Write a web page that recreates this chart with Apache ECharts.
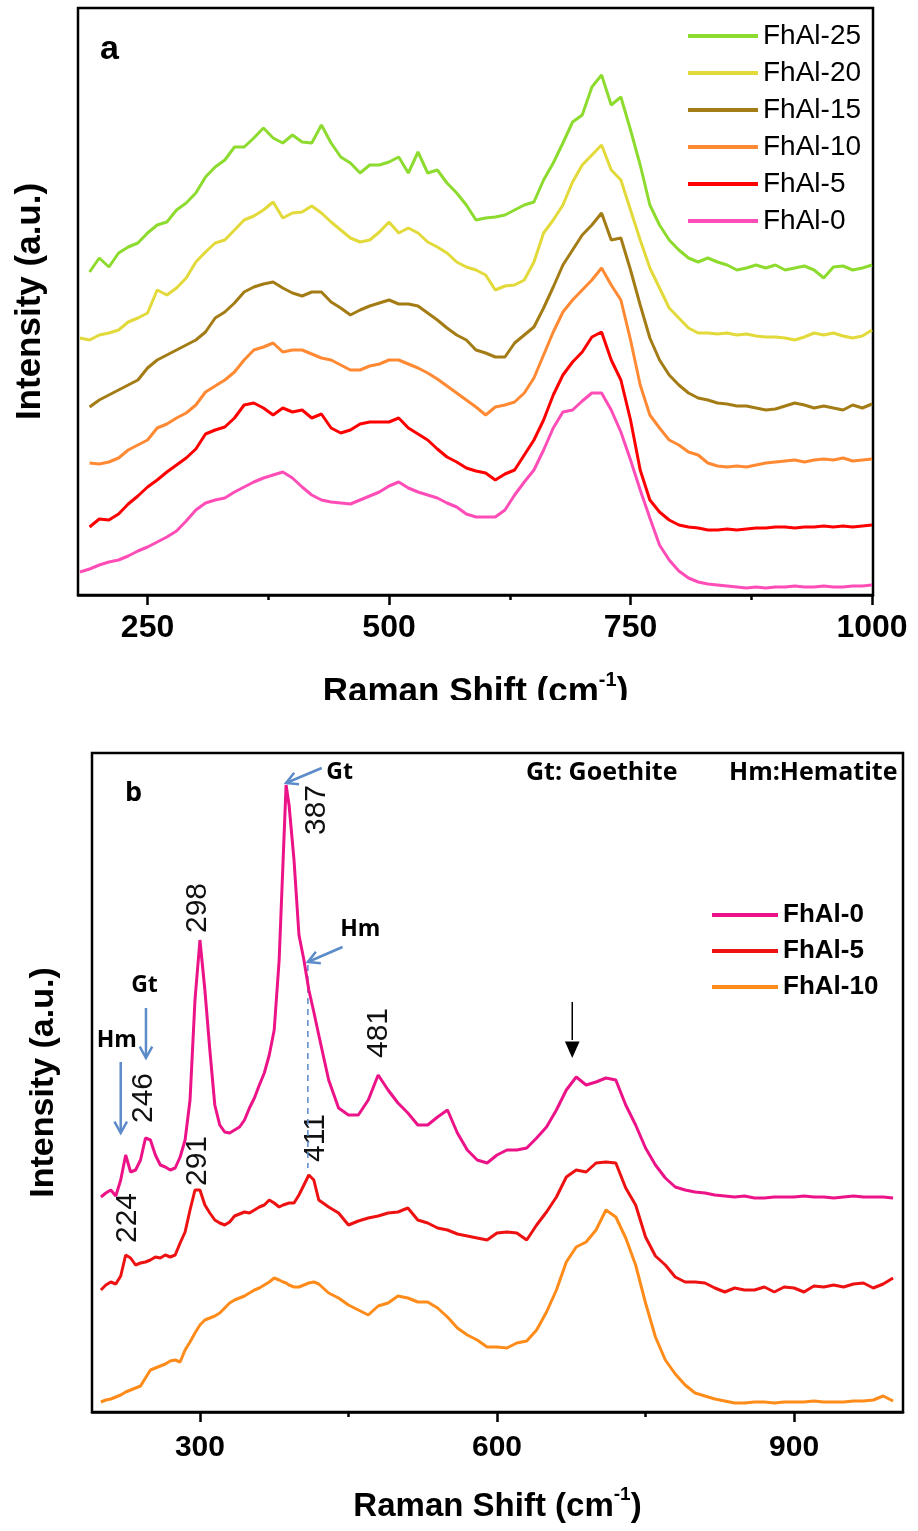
<!DOCTYPE html>
<html>
<head>
<meta charset="utf-8">
<title>Raman spectra FhAl</title>
<script src="https://cdn.jsdelivr.net/npm/echarts@6/dist/echarts.min.js"></script>
<style>
  html, body { margin: 0; padding: 0; background: #fff; }
  #raman_a { position: absolute; left: 0; top: 0; width: 918px; height: 700px; }
  #raman_b { position: absolute; left: 0; top: 700px; width: 918px; height: 831px; }
</style>
</head>
<body>
<div id="raman_a"></div>
<div id="raman_b"></div>
<script>
// ---- panel a : Raman shift (cm-1) and stacked intensities (a.u.)
var shiftA = [180, 190, 200, 210, 220, 230, 240, 250, 260, 270,
  280, 290, 300, 310, 320, 330, 340, 350, 360, 370,
  380, 390, 400, 410, 420, 430, 440, 450, 460, 470,
  480, 490, 500, 510, 520, 530, 540, 550, 560, 570,
  580, 590, 600, 610, 620, 630, 640, 650, 660, 670,
  680, 690, 700, 710, 720, 730, 740, 750, 760, 770,
  780, 790, 800, 810, 820, 830, 840, 850, 860, 870,
  880, 890, 900, 910, 920, 930, 940, 950, 960, 970,
  980, 990, 1000]
var fhal25A = [null, 323, 337, 328, 342, 348, 352, 362, 370, 373,
  385, 392, 402, 418, 428, 435, 448, 448, 457, 467,
  457, 452, 460, 453, 452, 470, 452, 438, 432, 422,
  430, 430, 433, 438, 422, 443, 422, 425, 412, 402,
  390, 375, 377, 378, 380, 385, 390, 393, 415, 432,
  452, 473, 480, 508, 520, 490, 498, 465, 430, 390,
  370, 355, 345, 337, 333, 337, 333, 330, 325, 327,
  330, 327, 330, 325, 327, 329, 325, 317, 328, 329,
  325, 327, 330]
var fhal20A = [257, 255, 260, 262, 265, 273, 277, 282, 305, 300,
  307, 317, 333, 343, 352, 355, 365, 375, 379, 385,
  393, 377, 382, 383, 389, 382, 373, 365, 357, 353,
  355, 363, 373, 362, 367, 362, 353, 348, 342, 333,
  328, 325, 320, 305, 309, 310, 315, 333, 362, 375,
  390, 413, 430, 440, 450, 425, 415, 385, 355, 327,
  307, 287, 277, 267, 262, 262, 261, 262, 260, 261,
  259, 258, 258, 257, 255, 258, 262, 260, 262, 259,
  257, 259, 265]
var fhal15A = [null, 188, 195, 200, 205, 210, 215, 227, 235, 240,
  245, 250, 255, 263, 277, 283, 292, 303, 308, 311,
  313, 307, 302, 299, 303, 303, 293, 287, 280, 285,
  289, 292, 295, 291, 291, 289, 282, 275, 267, 260,
  255, 245, 242, 238, 238, 252, 260, 268, 287, 308,
  330, 345, 360, 370, 382, 355, 357, 325, 290, 257,
  235, 220, 210, 202, 197, 195, 192, 191, 189, 189,
  187, 185, 186, 189, 192, 190, 187, 189, 187, 185,
  190, 187, 191]
var fhal10A = [null, 132, 131, 133, 137, 145, 150, 155, 167, 171,
  177, 182, 190, 203, 209, 215, 223, 235, 245, 248,
  252, 243, 245, 245, 241, 237, 235, 230, 225, 225,
  229, 231, 235, 235, 231, 227, 222, 216, 209, 202,
  195, 188, 180, 188, 190, 193, 202, 217, 240, 263,
  283, 295, 305, 315, 327, 310, 295, 255, 210, 180,
  167, 155, 150, 143, 140, 132, 129, 128, 129, 128,
  130, 132, 133, 134, 135, 133, 135, 136, 135, 137,
  134, 135, 136]
var fhal5A = [null, 68, 76, 75, 81, 91, 99, 108, 115, 123,
  130, 137, 146, 161, 165, 168, 177, 190, 192, 187,
  180, 187, 183, 185, 177, 181, 167, 162, 165, 171,
  173, 173, 173, 177, 167, 161, 155, 146, 138, 133,
  127, 124, 122, 115, 121, 125, 140, 155, 175, 200,
  220, 233, 243, 258, 263, 235, 215, 175, 125, 95,
  83, 75, 70, 68, 67, 65, 65, 66, 65, 66,
  67, 67, 68, 68, 67, 68, 68, 69, 68, 69,
  68, 69, 70]
var fhal0A = [23, 26, 30, 33, 35, 39, 44, 48, 53, 58,
  64, 74, 85, 92, 95, 97, 103, 108, 113, 117,
  120, 123, 117, 108, 100, 95, 93, 92, 91, 95,
  99, 103, 109, 113, 107, 103, 100, 97, 92, 88,
  81, 78, 78, 78, 85, 100, 113, 125, 145, 167,
  183, 185, 194, 202, 202, 185, 163, 135, 105, 77,
  50, 35, 24, 17, 13, 11, 10, 9, 8, 7,
  8, 7, 8, 8, 9, 8, 8, 9, 8, 8,
  9, 9, 10]
var majorTicksA = [250, 500, 750, 1000]
var minorTicksA = [375, 625, 875]

// ---- panel b
var shiftB = [200, 205, 210, 215, 220, 225, 230, 235, 240, 245,
  250, 255, 260, 265, 270, 275, 280, 285, 290, 295,
  300, 305, 310, 315, 320, 325, 330, 335, 340, 345,
  350, 355, 360, 365, 370, 375, 380, 384, 387, 390,
  395, 400, 405, 410, 415, 420, 430, 440, 450, 460,
  470, 480, 490, 500, 510, 520, 530, 540, 550, 560,
  570, 580, 590, 600, 610, 620, 630, 640, 650, 660,
  670, 680, 690, 700, 710, 720, 730, 740, 750, 760,
  770, 780, 790, 800, 810, 820, 830, 840, 850, 860,
  870, 880, 890, 900, 910, 920, 930, 940, 950, 960,
  970, 980, 990, 1000]
var fhal0B = [215, 219, 222, 216, 232, 257, 240, 242, 252, 274,
  272, 257, 247, 245, 242, 244, 255, 272, 312, 412,
  472, 422, 362, 307, 287, 280, 279, 282, 285, 292,
  304, 314, 327, 339, 357, 382, 452, 552, 627, 607,
  552, 477, 452, 422, 400, 377, 332, 304, 297, 297,
  312, 337, 322, 309, 299, 287, 287, 295, 302, 279,
  262, 252, 249, 257, 262, 262, 264, 274, 285, 302,
  322, 335, 327, 330, 334, 332, 307, 287, 264, 247,
  234, 225, 222, 220, 219, 217, 216, 215, 216, 214,
  214, 215, 215, 215, 216, 215, 215, 214, 215, 216,
  215, 215, 215, 214]
var fhal5B = [122, 127, 130, 128, 136, 157, 154, 147, 149, 150,
  152, 155, 154, 157, 155, 157, 169, 180, 202, 222,
  222, 207, 199, 192, 189, 187, 190, 196, 198, 200,
  199, 202, 205, 207, 212, 209, 205, 207, 208, 209,
  209, 217, 227, 237, 232, 212, 205, 199, 187, 191,
  194, 196, 199, 200, 204, 192, 189, 184, 182, 178,
  176, 174, 172, 179, 180, 179, 172, 187, 200, 215,
  235, 242, 240, 249, 250, 249, 224, 207, 175, 156,
  147, 135, 130, 130, 129, 124, 120, 124, 122, 122,
  125, 120, 125, 124, 120, 126, 125, 127, 125, 128,
  129, 124, 128, 134]
var fhal10B = [10, 12, 13, 15, 17, 20, 22, 24, 26, 34,
  42, 44, 46, 48, 51, 52, 50, 62, 70, 79,
  87, 92, 94, 96, 99, 104, 109, 112, 114, 116,
  119, 122, 124, 127, 130, 134, 132, 130, 129, 127,
  125, 125, 127, 129, 130, 128, 119, 114, 107, 102,
  97, 106, 109, 116, 114, 110, 110, 104, 95, 84,
  77, 72, 65, 65, 64, 69, 71, 82, 100, 122,
  150, 165, 170, 182, 202, 195, 174, 147, 109, 75,
  52, 38, 27, 19, 16, 13, 11, 9, 9, 10,
  10, 9, 10, 10, 10, 11, 10, 10, 10, 11,
  11, 12, 16, 11]
var majorTicksB = [300, 600, 900]
var minorTicksB = [450, 750]

// peak positions written beside the curves (label, shift, intensity)
var peakNames = ['387', '298', '246', '481', '224', '291', '411']
var peakAtX = [418, 298, 243, 481, 227, 298, 417]
var peakAtY = [602, 504, 314, 379, 194, 251, 274]

var SANS = '"Liberation Sans", Arial, sans-serif'
var OPEN = '"Open Sans", "Liberation Sans", sans-serif'

function pairs(xs, ys) {
  return xs.map(function (x, i) { return [x, ys[i]] })
}
function spectrum(name, xs, ys, color) {
  return {
    name: name,
    type: 'line',
    data: pairs(xs, ys),
    symbol: 'none',
    lineStyle: { color: color, width: 3 },
    itemStyle: { color: color },
  }
}
function xName(size) {
  return {
    rich: {
      t: { fontSize: size, fontWeight: 'bold', fontFamily: SANS, color: '#000', lineHeight: 44 },
      s: { fontSize: Math.round(size * 0.58), fontWeight: 'bold', fontFamily: SANS, color: '#000', lineHeight: 20, verticalAlign: 'top' },
    },
  }
}
function plain(v) { return String(v) }

// ---------------- panel a
var chartA = echarts.init(document.getElementById('raman_a'))
chartA.setOption({
  animation: false,
  grid: { left: 78, top: 8, width: 795, height: 587, show: true, borderColor: '#000', borderWidth: 2.5, outerBoundsMode: 'none', containLabel: false },
  legend: {
    orient: 'vertical',
    left: 683,
    top: 17,
    icon: 'rect',
    itemWidth: 70,
    itemHeight: 4,
    itemGap: 9,
    selectedMode: false,
    textStyle: { fontSize: 28, fontFamily: SANS, color: '#000', lineHeight: 28 },
    data: ['FhAl-25', 'FhAl-20', 'FhAl-15', 'FhAl-10', 'FhAl-5', 'FhAl-0'],
  },
  xAxis: [
    {
      type: 'value',
      min: 178,
      max: 1001,
      position: 'bottom',
      name: '{t|Raman Shift (cm}{s|-1}{t|)}',
      nameLocation: 'middle',
      nameGap: 75,
      nameTextStyle: xName(35),
      axisLine: { lineStyle: { color: '#000', width: 2.5 } },
      axisTick: { customValues: majorTicksA, length: 10, lineStyle: { color: '#000', width: 2.5 } },
      axisLabel: { customValues: majorTicksA, formatter: plain, fontSize: 32, fontWeight: 'bold', fontFamily: SANS, color: '#000', margin: 17 },
      splitLine: { show: false },
    },
    {
      type: 'value',
      min: 178,
      max: 1001,
      position: 'bottom',
      axisLine: { show: false },
      axisTick: { customValues: minorTicksA, length: 5, lineStyle: { color: '#000', width: 2.5 } },
      axisLabel: { show: false },
      splitLine: { show: false },
    },
  ],
  yAxis: {
    type: 'value',
    min: 0,
    max: 587,
    name: 'Intensity (a.u.)',
    nameLocation: 'middle',
    nameGap: 30,
    nameTextStyle: { fontSize: 35, fontWeight: 'bold', fontFamily: SANS, color: '#000' },
    axisLine: { show: false },
    axisTick: { show: false },
    axisLabel: { show: false },
    splitLine: { show: false },
  },
  graphic: [
    {
      type: 'text',
      left: 100,
      top: 33,
      style: { text: 'a', font: 'bold 34px ' + SANS, fill: '#000' },
    },
  ],
  series: [
    spectrum('FhAl-25', shiftA, fhal25A, '#8EDB2F'),
    spectrum('FhAl-20', shiftA, fhal20A, '#E2D93A'),
    spectrum('FhAl-15', shiftA, fhal15A, '#A47C16'),
    spectrum('FhAl-10', shiftA, fhal10A, '#FF8A33'),
    spectrum('FhAl-5', shiftA, fhal5A, '#FF0000'),
    spectrum('FhAl-0', shiftA, fhal0A, '#FF4DB8'),
  ],
})

// ---------------- panel b
var chartB = echarts.init(document.getElementById('raman_b'))
chartB.setOption({
  animation: false,
  grid: { left: 92, top: 53, width: 811, height: 659, show: true, borderColor: '#000', borderWidth: 2.5, outerBoundsMode: 'none', containLabel: false },
  legend: {
    orient: 'vertical',
    left: 707,
    top: 197,
    icon: 'rect',
    itemWidth: 66,
    itemHeight: 4,
    itemGap: 10,
    selectedMode: false,
    textStyle: { fontSize: 26, fontWeight: 'bold', fontFamily: SANS, color: '#000', lineHeight: 26 },
    data: ['FhAl-0', 'FhAl-5', 'FhAl-10'],
  },
  xAxis: [
    {
      type: 'value',
      min: 191,
      max: 1010,
      position: 'bottom',
      name: '{t|Raman Shift (cm}{s|-1}{t|)}',
      nameLocation: 'middle',
      nameGap: 73,
      nameTextStyle: xName(33),
      axisLine: { lineStyle: { color: '#000', width: 2.5 } },
      axisTick: { customValues: majorTicksB, length: 10, lineStyle: { color: '#000', width: 2.5 } },
      axisLabel: { customValues: majorTicksB, formatter: plain, fontSize: 30, fontWeight: 'bold', fontFamily: SANS, color: '#000', margin: 21 },
      splitLine: { show: false },
    },
    {
      type: 'value',
      min: 191,
      max: 1010,
      position: 'bottom',
      axisLine: { show: false },
      axisTick: { customValues: minorTicksB, length: 5, lineStyle: { color: '#000', width: 2.5 } },
      axisLabel: { show: false },
      splitLine: { show: false },
    },
  ],
  yAxis: {
    type: 'value',
    min: 0,
    max: 659,
    name: 'Intensity (a.u.)',
    nameLocation: 'middle',
    nameGap: 31,
    nameTextStyle: { fontSize: 34, fontWeight: 'bold', fontFamily: SANS, color: '#000' },
    axisLine: { show: false },
    axisTick: { show: false },
    axisLabel: { show: false },
    splitLine: { show: false },
  },
  series: [
    spectrum('FhAl-0', shiftB, fhal0B, '#EC1288'),
    spectrum('FhAl-5', shiftB, fhal5B, '#EE1111'),
    spectrum('FhAl-10', shiftB, fhal10B, '#FF8C1A'),
  ],
})

// annotations for panel b, placed through the axes
function toPx(x, y) {
  return chartB.convertToPixel({ xAxisIndex: 0, yAxisIndex: 0 }, [x, y])
}
var BLUE = '#5B8BC9'
function arrow(from, to, color, filled) {
  var a = toPx(from[0], from[1])
  var b = toPx(to[0], to[1])
  var ang = Math.atan2(b[1] - a[1], b[0] - a[0])
  var len = filled ? 18 : 13
  var spread = filled ? 0.42 : 0.5
  var h1 = [b[0] - len * Math.cos(ang - spread), b[1] - len * Math.sin(ang - spread)]
  var h2 = [b[0] - len * Math.cos(ang + spread), b[1] - len * Math.sin(ang + spread)]
  if (filled) {
    var base = [b[0] - len * Math.cos(ang), b[1] - len * Math.sin(ang)]
    return [
      { type: 'polyline', shape: { points: [a, base] }, style: { stroke: color, lineWidth: 1.5 } },
      { type: 'polygon', shape: { points: [b, h1, h2] }, style: { fill: color } },
    ]
  }
  return [
    { type: 'polyline', shape: { points: [a, b] }, style: { stroke: color, lineWidth: 2.5 } },
    { type: 'polyline', shape: { points: [h1, b, h2] }, style: { stroke: color, lineWidth: 2.5, fill: null } },
  ]
}
function label(text, at, size) {
  var p = toPx(at[0], at[1])
  return {
    type: 'text',
    x: p[0],
    y: p[1],
    style: { text: text, font: 'bold ' + size + 'px ' + OPEN, fill: '#000', align: 'center', verticalAlign: 'middle' },
  }
}

var gfx = [
  { type: 'text', left: 125, top: 80, style: { text: 'b', font: 'bold 27px ' + OPEN, fill: '#000' } },
  { type: 'text', left: 526, top: 60, style: { text: 'Gt: Goethite', font: 'bold 25px ' + OPEN, fill: '#000' } },
  { type: 'text', left: 729, top: 60, style: { text: 'Hm:Hematite', font: 'bold 25px ' + OPEN, fill: '#000' } },
]
peakNames.forEach(function (t, i) {
  var p = toPx(peakAtX[i], peakAtY[i])
  gfx.push({
    type: 'text',
    x: p[0],
    y: p[1],
    rotation: Math.PI / 2,
    style: { text: t, font: '30px ' + SANS, fill: '#111', align: 'center', verticalAlign: 'middle' },
  })
})
var d1 = toPx(409, 447)
var d2 = toPx(409, 244)
gfx.push({ type: 'line', shape: { x1: d1[0], y1: d1[1], x2: d2[0], y2: d2[1] }, style: { stroke: BLUE, lineWidth: 1.5, lineDash: [6, 5] } })
gfx = gfx
  .concat(arrow([423, 644], [387, 629], BLUE))
  .concat(arrow([444, 465], [409, 450], BLUE))
  .concat(arrow([245.5, 404], [245.5, 354], BLUE))
  .concat(arrow([220, 350], [220, 279], BLUE))
  .concat(arrow([676, 410], [676, 354], '#000', true))
gfx.push(label('Gt', [441, 640], 23))
gfx.push(label('Hm', [462, 483], 23))
gfx.push(label('Gt', [244, 427], 23))
gfx.push(label('Hm', [216, 372], 23))
chartB.setOption({ graphic: gfx })
</script>
</body>
</html>
